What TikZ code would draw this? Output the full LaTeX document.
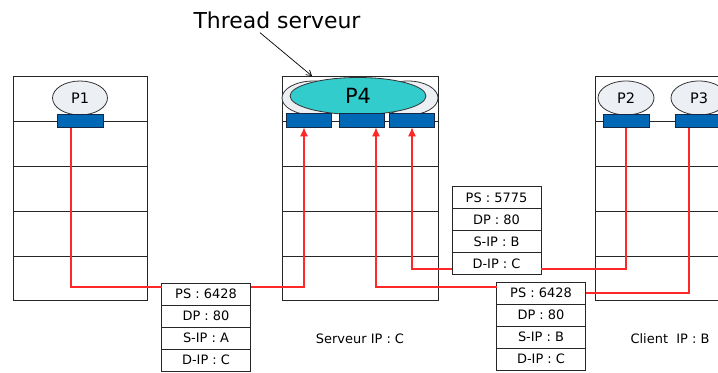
\documentclass[tikz,border=0pt]{standalone}
\usepackage{fontspec}
\setmainfont{DejaVu Sans}
\usetikzlibrary{arrows.meta,shapes.geometric,positioning}
\definecolor{procfill}{RGB}{236,239,244}
\definecolor{sockblue}{RGB}{0,104,180}
\definecolor{sockedge}{RGB}{20,40,70}
\definecolor{tealfour}{RGB}{51,204,204}
\definecolor{wirered}{RGB}{255,40,40}
\begin{document}
\begin{tikzpicture}[x=1bp,y=-1bp,
  hostbox/.style={draw=black!85,line width=0.9bp,inner sep=0,outer sep=0,minimum height=224bp},
  rowline/.style={draw=black!85,line width=0.9bp},
  proc/.style={ellipse,draw=black!80,line width=0.8bp,fill=procfill,inner sep=0,minimum width=55bp,minimum height=34bp,font=\fontsize{14.5}{16}\selectfont},
  sock/.style={draw=sockedge,line width=0.8bp,fill=sockblue,inner sep=0,outer sep=0,minimum width=45bp,minimum height=13.5bp},
  pkt/.style={draw=black!85,line width=0.9bp,fill=white,inner sep=0,outer sep=0,minimum width=89bp,minimum height=22bp,font=\fontsize{13}{15}\selectfont},
  wire/.style={draw=wirered,line width=1.4bp},
  tip/.style={-{Latex[length=9bp,width=8bp]}},
  lbl/.style={font=\fontsize{13}{15}\selectfont,inner sep=0}]
\clip (0,0) rectangle (718,372);
\fill[white] (0,0) rectangle (718,372);

% hosts
\node[hostbox,minimum width=134bp] (hostL) at (80,188) {};
\node[hostbox,minimum width=156bp] (hostS) at (360,188) {};
\node[hostbox,minimum width=150bp] (hostC) at (670,188) {};
\foreach \h in {hostL,hostS,hostC}{
  \foreach \yy in {121,166,211,256}{
    \draw[rowline] (\h.west |- 0,\yy) -- (\h.east |- 0,\yy);
  }
}

% processes
\node[proc] (p1) at (80,98) {P1};
\node[proc,minimum width=63bp] (p4l) at (313.5,98) {};
\node[proc,minimum width=60bp] (p4r) at (408,98) {};
\node[proc,fill=tealfour,minimum width=136bp,minimum height=37bp,font=\fontsize{21}{24}\selectfont] (p4) at (358,96) {P4};
\node[proc,minimum width=56bp] (p2) at (626,98) {P2};
\node[proc,minimum width=56bp] (p3) at (699,98) {P3};

% sockets
\node[sock,minimum width=46bp] (p1r) at (80,121) {};
\node[sock] (s1) at (308.5,120.5) {};
\node[sock] (s2) at (361.5,120.5) {};
\node[sock] (s3) at (411.5,120.5) {};
\node[sock,minimum width=46bp] (p2r) at (626,121) {};
\node[sock,minimum width=46bp] (p3r) at (698,121) {};

% packets
\node[pkt] (pa1) at (206,294) {PS : 6428};
\node[pkt,below=0pt of pa1] (pa2) {DP : 80};
\node[pkt,below=0pt of pa2] (pa3) {S-IP : A};
\node[pkt,below=0pt of pa3] (pa4) {D-IP : C};

\node[pkt] (pc1) at (496.5,197.5) {PS : 5775};
\node[pkt,below=0pt of pc1] (pc2) {DP : 80};
\node[pkt,below=0pt of pc2] (pc3) {S-IP : B};
\node[pkt,below=0pt of pc3] (pc4) {D-IP : C};

\node[pkt] (pb1) at (541,293) {PS : 6428};
\node[pkt,below=0pt of pb1] (pb2) {DP : 80};
\node[pkt,below=0pt of pb2] (pb3) {S-IP : B};
\node[pkt,below=0pt of pb3] (pb4) {D-IP : C};

% wires
\draw[wire] ([xshift=-9bp]p1r.south) |- ([yshift=7bp]pa1.west);
\draw[wire,tip] ([yshift=7bp]pa1.east) -| ([xshift=-4.5bp]s1.south);
\draw[wire,tip] ([yshift=6bp]pb1.west) -| ([xshift=14.5bp]s2.south);
\draw[wire,tip] ([yshift=-5.5bp]pc4.west) -| ([xshift=0.5bp]s3.south);
\draw[wire] ([yshift=-5.5bp]pc4.east) -| (p2r.south);
\draw[wire] (pb1.east) -| ([xshift=-9bp]p3r.south);

% labels
\node[font=\fontsize{22}{26}\selectfont,inner sep=0] (thr) at (277,20) {Thread serveur};
\draw[black,line width=0.7bp,-{Straight Barb[length=5bp,width=6bp]}] ([xshift=-17bp,yshift=-4bp]thr.south) -- ([xshift=-48bp]hostS.north);
\node[lbl] (lblS) at (360,339) {Serveur IP : C};
\node[lbl] (lblC) at (670,339) {Client\ \ IP : B};
\end{tikzpicture}
\end{document}
